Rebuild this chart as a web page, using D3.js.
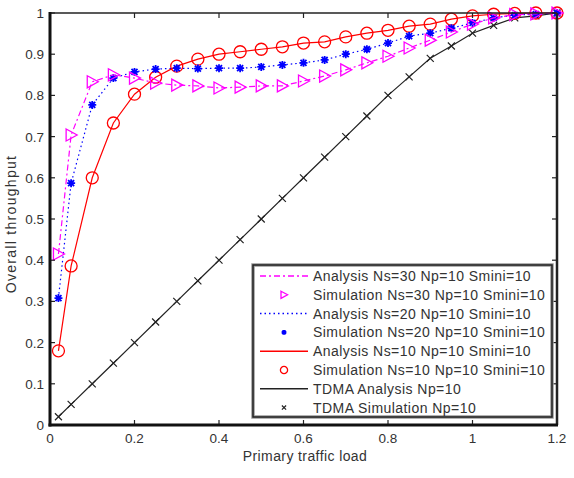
<!DOCTYPE html>
<html>
<head>
<meta charset="utf-8">
<script src="https://cdn.jsdelivr.net/npm/d3@7"></script>
<style>
  body { margin: 0; background: #fff; }
  text { font-family: "Liberation Sans", Arial, sans-serif; fill: #333; }
</style>
</head>
<body>
<script>
var width = 574,
    height = 478,
    margin = {left: 50, right: 17, top: 13, bottom: 53};

// load values on the x axis
var load = [0.02, 0.05, 0.1, 0.15, 0.2, 0.25, 0.3, 0.35, 0.4, 0.45, 0.5, 0.55, 0.6,
            0.65, 0.7, 0.75, 0.8, 0.85, 0.9, 0.95, 1.0, 1.05, 1.1, 1.15, 1.2];

// throughput
var ns30 = [0.415, 0.704, 0.833, 0.85, 0.842, 0.83, 0.825, 0.823, 0.818, 0.82, 0.823, 0.823, 0.835,
            0.847, 0.862, 0.879, 0.895, 0.915, 0.934, 0.954, 0.973, 0.988, 0.996, 0.998, 1.0];
var ns20 = [0.308, 0.587, 0.777, 0.842, 0.857, 0.864, 0.866, 0.865, 0.866, 0.866, 0.869, 0.874, 0.879,
            0.886, 0.9, 0.912, 0.927, 0.944, 0.951, 0.963, 0.976, 0.988, 0.995, 0.997, 1.0];
var ns10 = [0.18, 0.386, 0.6, 0.733, 0.803, 0.844, 0.871, 0.888, 0.9, 0.906, 0.912, 0.918, 0.927,
            0.93, 0.942, 0.951, 0.958, 0.968, 0.973, 0.985, 0.993, 0.997, 0.999, 1.0, 1.0];
var tdma = [0.02, 0.05, 0.1, 0.15, 0.2, 0.25, 0.3, 0.35, 0.4, 0.45, 0.5, 0.55, 0.6,
            0.65, 0.7, 0.75, 0.8, 0.845, 0.89, 0.92, 0.951, 0.97, 0.988, 0.993, 1.0];

var xTicks = [0, 0.2, 0.4, 0.6, 0.8, 1, 1.2],
    yTicks = [0, 0.1, 0.2, 0.3, 0.4, 0.5, 0.6, 0.7, 0.8, 0.9, 1];

var legendLabels = ["Analysis Ns=30 Np=10 Smini=10", "Simulation Ns=30 Np=10 Smini=10",
                    "Analysis Ns=20 Np=10 Smini=10", "Simulation Ns=20 Np=10 Smini=10",
                    "Analysis Ns=10 Np=10 Smini=10", "Simulation Ns=10 Np=10 Smini=10",
                    "TDMA Analysis Np=10", "TDMA Simulation Np=10"];

var svg = d3.select("body").append("svg")
    .attr("width", width)
    .attr("height", height);

var x = d3.scaleLinear().domain([0, 1.2]).range([margin.left, width - margin.right]);
var y = d3.scaleLinear().domain([0, 1]).range([height - margin.bottom, margin.top]);

var series = [
  {vals: ns30, color: "#ff00ff", dash: "6,3,2,3", width: 1.2, marker: "tri"},
  {vals: ns20, color: "#0000ff", dash: "1.5,3", width: 1.2, marker: "star"},
  {vals: ns10, color: "#ff0000", dash: null, width: 1.2, marker: "circle"},
  {vals: tdma, color: "#222222", dash: null, width: 1.2, marker: "cross"}
];

function marker(g, type, color, k) {
  if (type == "tri") {
    g.append("path").attr("d", "M-5,-6L6,0L-5,6Z")
      .attr("transform", "scale(" + k + ")")
      .attr("fill", "none").attr("stroke", color).attr("stroke-width", 1.3 / k);
  } else if (type == "circle") {
    g.append("circle").attr("r", 6 * k)
      .attr("fill", "none").attr("stroke", color).attr("stroke-width", 1.3);
  } else if (type == "star") {
    g.append("path").attr("d", "M-4,0H4M0,-4V4M-3,-3L3,3M-3,3L3,-3")
      .attr("transform", "scale(" + k + ")")
      .attr("stroke", color).attr("stroke-width", 1.8 / k);
  } else {
    g.append("path").attr("d", "M-3.5,-3.5L3.5,3.5M-3.5,3.5L3.5,-3.5")
      .attr("transform", "scale(" + k + ")")
      .attr("stroke", color).attr("stroke-width", 1.2 / k);
  }
}

var line = d3.line()
    .x(function(d, i) { return x(load[i]); })
    .y(function(d) { return y(d); });

// curves and markers
series.slice().reverse().forEach(function(s) {
  svg.append("path")
    .attr("d", line(s.vals))
    .attr("fill", "none")
    .attr("stroke", s.color)
    .attr("stroke-width", s.width)
    .attr("stroke-dasharray", s.dash);
  s.vals.forEach(function(v, i) {
    var g = svg.append("g").attr("transform", "translate(" + x(load[i]) + "," + y(v) + ")");
    marker(g, s.marker, s.color, 1);
  });
});

// frame with inward ticks on all sides
var x0 = x(0), x1 = x(1.2), y0 = y(0), y1 = y(1);

xTicks.forEach(function(t) {
  svg.append("line").attr("x1", x(t)).attr("x2", x(t)).attr("y1", y0).attr("y2", y0 - 5)
    .attr("stroke", "#222").attr("stroke-width", 1.2);
  svg.append("line").attr("x1", x(t)).attr("x2", x(t)).attr("y1", y1).attr("y2", y1 + 5)
    .attr("stroke", "#222").attr("stroke-width", 1.2);
  svg.append("text").attr("x", x(t)).attr("y", y0 + 18)
    .attr("text-anchor", "middle").attr("font-size", 13.5).text(t);
});
yTicks.forEach(function(t) {
  svg.append("line").attr("x1", x0).attr("x2", x0 + 5).attr("y1", y(t)).attr("y2", y(t))
    .attr("stroke", "#222").attr("stroke-width", 1.2);
  svg.append("line").attr("x1", x1).attr("x2", x1 - 5).attr("y1", y(t)).attr("y2", y(t))
    .attr("stroke", "#222").attr("stroke-width", 1.2);
  svg.append("text").attr("x", x0 - 6).attr("y", y(t) + 5)
    .attr("text-anchor", "end").attr("font-size", 13.5).text(t);
});

svg.append("line").attr("x1", x0).attr("x2", x1).attr("y1", y1).attr("y2", y1)
  .attr("stroke", "#222").attr("stroke-width", 1.5);
svg.append("line").attr("x1", x1).attr("x2", x1).attr("y1", y1).attr("y2", y0)
  .attr("stroke", "#222").attr("stroke-width", 2.5);
svg.append("line").attr("x1", x0).attr("x2", x0).attr("y1", y1 - 1).attr("y2", y0 + 1.5)
  .attr("stroke", "#111").attr("stroke-width", 3);
svg.append("line").attr("x1", x0 - 1.5).attr("x2", x1 + 1).attr("y1", y0).attr("y2", y0)
  .attr("stroke", "#111").attr("stroke-width", 3);

// axis titles
svg.append("text").attr("x", 305).attr("y", 461)
  .attr("text-anchor", "middle").attr("font-size", 14)
  .attr("letter-spacing", 0.4).text("Primary traffic load");
svg.append("text")
  .attr("transform", "translate(16,224) rotate(-90)")
  .attr("text-anchor", "middle").attr("font-size", 14)
  .attr("letter-spacing", 1.3).text("Overall throughput");

// legend
var lg = svg.append("g");
lg.append("rect").attr("x", 253).attr("y", 265).attr("width", 299).attr("height", 152)
  .attr("fill", "#fff").attr("stroke", "#999").attr("stroke-width", 3.5);
lg.append("rect").attr("x", 253).attr("y", 265).attr("width", 299).attr("height", 152)
  .attr("fill", "none").attr("stroke", "#222").attr("stroke-width", 1.5);

legendLabels.forEach(function(lab, i) {
  var s = series[Math.floor(i / 2)],
      ly = 276 + i * 18.8;
  if (i % 2 == 0) {
    lg.append("line").attr("x1", 260).attr("x2", 308).attr("y1", ly).attr("y2", ly)
      .attr("stroke", s.color).attr("stroke-width", s.width + 0.3)
      .attr("stroke-dasharray", s.dash);
  } else {
    var g = lg.append("g").attr("transform", "translate(284," + ly + ")");
    marker(g, s.marker, s.color, 0.6);
  }
  lg.append("text").attr("x", 313).attr("y", ly + 5)
    .attr("font-size", 14).attr("letter-spacing", 0.45).text(lab);
});
</script>
</body>
</html>
